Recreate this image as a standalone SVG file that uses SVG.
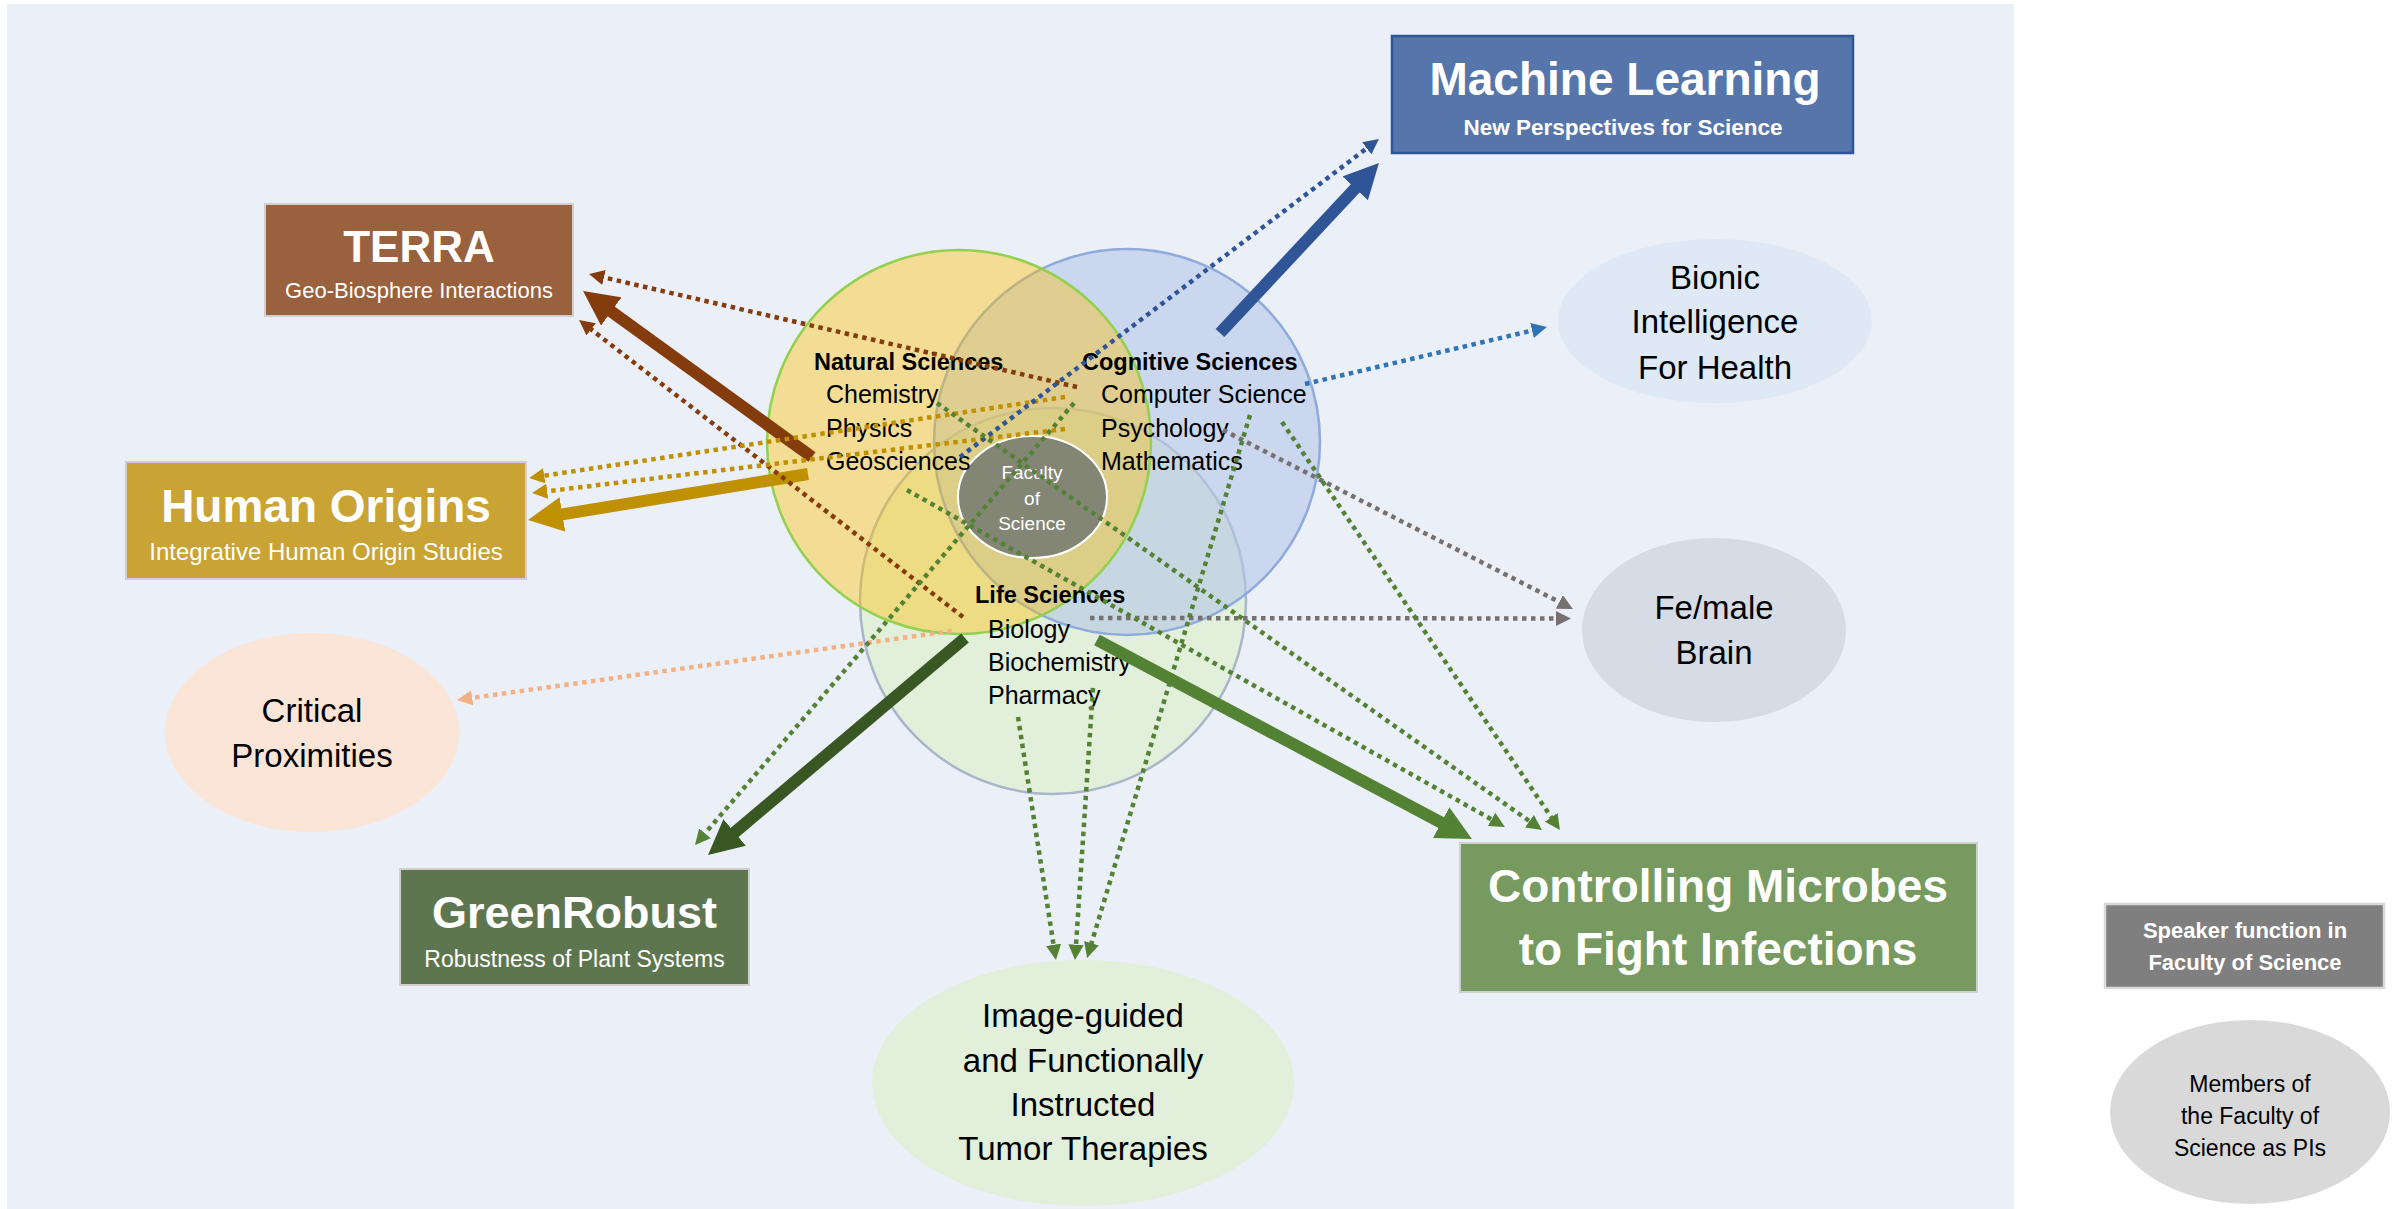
<svg xmlns="http://www.w3.org/2000/svg" width="2402" height="1209" viewBox="0 0 2402 1209">
<style>
text{font-family:"Liberation Sans",Arial,sans-serif}
.t{fill:#fff;font-weight:bold;text-anchor:middle}
.s{fill:#fff;text-anchor:middle}
.lbl{fill:#000;font-size:33px;text-anchor:middle}
.vh{font-weight:bold;font-size:23.5px;fill:#000}
.vi{font-size:25px;fill:#000}
.fac{fill:#fff;font-size:19px;text-anchor:middle}
.dot{fill:none;stroke-width:4.5;stroke-dasharray:4.5 4.5}
.thick{fill:none;stroke-width:12;stroke-linecap:butt}
.box{stroke:#D0CECE;stroke-width:2}
</style>
<defs>
<marker id="hBrown" viewBox="0 0 10 10" refX="1.4" refY="5" markerWidth="2.9" markerHeight="2.9" orient="auto" markerUnits="strokeWidth"><path d="M0,0L10,5L0,10z" fill="#843C0C"/></marker>
<marker id="hGold" viewBox="0 0 10 10" refX="1.4" refY="5" markerWidth="2.9" markerHeight="2.9" orient="auto" markerUnits="strokeWidth"><path d="M0,0L10,5L0,10z" fill="#BF9000"/></marker>
<marker id="hBlue" viewBox="0 0 10 10" refX="1.4" refY="5" markerWidth="2.9" markerHeight="2.9" orient="auto" markerUnits="strokeWidth"><path d="M0,0L10,5L0,10z" fill="#2F5597"/></marker>
<marker id="hDGreen" viewBox="0 0 10 10" refX="1.4" refY="5" markerWidth="2.9" markerHeight="2.9" orient="auto" markerUnits="strokeWidth"><path d="M0,0L10,5L0,10z" fill="#385723"/></marker>
<marker id="hGreen" viewBox="0 0 10 10" refX="1.4" refY="5" markerWidth="2.9" markerHeight="2.9" orient="auto" markerUnits="strokeWidth"><path d="M0,0L10,5L0,10z" fill="#548235"/></marker>
<marker id="dBrown" viewBox="0 0 10 10" refX="2.2" refY="5" markerWidth="3.4" markerHeight="3.4" orient="auto" markerUnits="strokeWidth"><path d="M0,0L10,5L0,10z" fill="#843C0C"/></marker>
<marker id="dGold" viewBox="0 0 10 10" refX="2.2" refY="5" markerWidth="3.4" markerHeight="3.4" orient="auto" markerUnits="strokeWidth"><path d="M0,0L10,5L0,10z" fill="#BF9000"/></marker>
<marker id="dBlue" viewBox="0 0 10 10" refX="2.2" refY="5" markerWidth="3.4" markerHeight="3.4" orient="auto" markerUnits="strokeWidth"><path d="M0,0L10,5L0,10z" fill="#2F5597"/></marker>
<marker id="dLBlue" viewBox="0 0 10 10" refX="2.2" refY="5" markerWidth="3.4" markerHeight="3.4" orient="auto" markerUnits="strokeWidth"><path d="M0,0L10,5L0,10z" fill="#2E75B6"/></marker>
<marker id="dGray" viewBox="0 0 10 10" refX="2.2" refY="5" markerWidth="3.4" markerHeight="3.4" orient="auto" markerUnits="strokeWidth"><path d="M0,0L10,5L0,10z" fill="#767171"/></marker>
<marker id="dOrange" viewBox="0 0 10 10" refX="2.2" refY="5" markerWidth="3.4" markerHeight="3.4" orient="auto" markerUnits="strokeWidth"><path d="M0,0L10,5L0,10z" fill="#F4B183"/></marker>
<marker id="dGreen" viewBox="0 0 10 10" refX="2.2" refY="5" markerWidth="3.4" markerHeight="3.4" orient="auto" markerUnits="strokeWidth"><path d="M0,0L10,5L0,10z" fill="#548235"/></marker>
</defs>

<rect id="panel" x="7" y="4" width="2007" height="1205" fill="#EBEFF7"/>

<g id="venn">
<circle id="life-circle" cx="1053" cy="601" r="193" fill="#E2EFDA" stroke="#A9B6CA" stroke-width="2.5"/>
<circle id="cognitive-circle" cx="1127" cy="442" r="193" fill="#B4C7E7" fill-opacity="0.6" stroke="#8FAADC" stroke-width="2.5"/>
<circle id="natural-circle" cx="959" cy="442" r="192" fill="#FFC000" fill-opacity="0.4" stroke="#92D050" stroke-width="2.5"/>
<g id="faculty">
<ellipse cx="1032.5" cy="497" rx="74.5" ry="61" fill="#838575" stroke="#FFFFFF" stroke-width="2"/>
<text class="fac" x="1032" y="479">Faculty</text>
<text class="fac" x="1032" y="505">of</text>
<text class="fac" x="1032" y="530">Science</text>
</g>
<g id="natural-sciences">
<text class="vh" x="814" y="370">Natural Sciences</text>
<text class="vi" x="826" y="403">Chemistry</text>
<text class="vi" x="826" y="437">Physics</text>
<text class="vi" x="826" y="470">Geosciences</text>
</g>
<g id="cognitive-sciences">
<text class="vh" x="1082" y="370">Cognitive Sciences</text>
<text class="vi" x="1101" y="403">Computer Science</text>
<text class="vi" x="1101" y="437">Psychology</text>
<text class="vi" x="1101" y="470">Mathematics</text>
</g>
<g id="life-sciences">
<text class="vh" x="975" y="603">Life Sciences</text>
<text class="vi" x="988" y="638">Biology</text>
<text class="vi" x="988" y="671">Biochemistry</text>
<text class="vi" x="988" y="704">Pharmacy</text>
</g>
</g>

<g id="machine-learning">
<rect x="1392" y="36" width="461" height="117" fill="#5676AB" stroke="#2F5597" stroke-width="2.5"/>
<text class="t" x="1625" y="95" font-size="46">Machine Learning</text>
<text class="t" x="1623" y="135" font-size="22.5">New Perspectives for Science</text>
</g>

<g id="terra">
<rect class="box" x="265" y="204" width="308" height="112" fill="#9A613E"/>
<text class="t" x="419" y="262" font-size="44">TERRA</text>
<text class="s" x="419" y="298" font-size="22">Geo-Biosphere Interactions</text>
</g>

<g id="human-origins">
<rect class="box" x="126" y="462" width="400" height="117" fill="#C9A334"/>
<text class="t" x="326" y="522" font-size="46">Human Origins</text>
<text class="s" x="326" y="560" font-size="24">Integrative Human Origin Studies</text>
</g>

<g id="greenrobust">
<rect class="box" x="400" y="869" width="349" height="116" fill="#5E7650"/>
<text class="t" x="574.5" y="928" font-size="45">GreenRobust</text>
<text class="s" x="574.5" y="967" font-size="23">Robustness of Plant Systems</text>
</g>

<g id="controlling-microbes">
<rect class="box" x="1460" y="843" width="517" height="149" fill="#769A5F"/>
<text class="t" x="1718" y="902" font-size="46">Controlling Microbes</text>
<text class="t" x="1718" y="965" font-size="46">to Fight Infections</text>
</g>

<g id="bionic-intelligence">
<ellipse cx="1715" cy="321" rx="157" ry="82" fill="#DEE9F5"/>
<text class="lbl" x="1715" y="289">Bionic</text>
<text class="lbl" x="1715" y="333">Intelligence</text>
<text class="lbl" x="1715" y="379">For Health</text>
</g>

<g id="female-brain">
<ellipse cx="1714" cy="630" rx="132" ry="92" fill="#D5DCE5"/>
<text class="lbl" x="1714" y="619">Fe/male</text>
<text class="lbl" x="1714" y="664">Brain</text>
</g>

<g id="critical-proximities">
<ellipse cx="312" cy="732.5" rx="147" ry="99.5" fill="#FBE5D6"/>
<text class="lbl" x="312" y="722">Critical</text>
<text class="lbl" x="312" y="767">Proximities</text>
</g>

<g id="tumor-therapies">
<ellipse cx="1083" cy="1083" rx="211" ry="123" fill="#E2EFDA"/>
<text class="lbl" x="1083" y="1027">Image-guided</text>
<text class="lbl" x="1083" y="1072">and Functionally</text>
<text class="lbl" x="1083" y="1116">Instructed</text>
<text class="lbl" x="1083" y="1160">Tumor Therapies</text>
</g>

<g id="legend-speaker">
<rect x="2105" y="904" width="279" height="84" fill="#7F7F7F" stroke="#D9D9D9" stroke-width="2.5"/>
<text class="t" x="2245" y="938" font-size="22">Speaker function in</text>
<text class="t" x="2245" y="970" font-size="22">Faculty of Science</text>
</g>

<g id="legend-members">
<ellipse cx="2250" cy="1112" rx="140" ry="92" fill="#D9D9D9"/>
<text x="2250" y="1092" font-size="23" text-anchor="middle" fill="#000">Members of</text>
<text x="2250" y="1124" font-size="23" text-anchor="middle" fill="#000">the Faculty of</text>
<text x="2250" y="1156" font-size="23" text-anchor="middle" fill="#000">Science as PIs</text>
</g>

<g id="connectors">
<path class="thick" stroke="#843C0C" marker-end="url(#hBrown)" d="M812,457L607.3,308.6"/>
<path class="thick" stroke="#BF9000" marker-end="url(#hGold)" d="M808,474L557.6,515.1"/>
<path class="thick" stroke="#2F5597" marker-end="url(#hBlue)" d="M1220,333L1358.5,184.9"/>
<path class="thick" stroke="#385723" marker-end="url(#hDGreen)" d="M965,638L730.9,835.6"/>
<path class="thick" stroke="#548235" marker-end="url(#hGreen)" d="M1097,640L1445.5,824.9"/>

<path class="dot" stroke="#843C0C" marker-end="url(#dBrown)" d="M1077,387L600.7,276.7"/>
<path class="dot" stroke="#843C0C" marker-end="url(#dBrown)" d="M963,617L588.5,327.3"/>
<path class="dot" stroke="#BF9000" marker-end="url(#dGold)" d="M1065,397L540.9,476.2"/>
<path class="dot" stroke="#BF9000" marker-end="url(#dGold)" d="M1065,429L543.9,491.6"/>
<path class="dot" stroke="#2F5597" marker-end="url(#dBlue)" d="M960,457L1369.4,146.3"/>
<path class="dot" stroke="#2E75B6" marker-end="url(#dLBlue)" d="M1305,384L1535.3,329.8"/>
<path class="dot" stroke="#767171" marker-end="url(#dGray)" d="M1223,430L1562.3,603.5"/>
<path class="dot" stroke="#767171" marker-end="url(#dGray)" d="M1090,618L1559,618.5"/>
<path class="dot" stroke="#F4B183" marker-end="url(#dOrange)" d="M952,631L468.9,698.3"/>
<path class="dot" stroke="#548235" marker-end="url(#dGreen)" d="M1074,403L702.8,835.9"/>
<path class="dot" stroke="#548235" marker-end="url(#dGreen)" d="M937,403L1532.2,823.1"/>
<path class="dot" stroke="#548235" marker-end="url(#dGreen)" d="M907,490L1494.5,821.1"/>
<path class="dot" stroke="#548235" marker-end="url(#dGreen)" d="M1282,422L1553.2,820.1"/>
<path class="dot" stroke="#548235" marker-end="url(#dGreen)" d="M1250,415L1090.5,946.5"/>
<path class="dot" stroke="#548235" marker-end="url(#dGreen)" d="M1018,717L1054.1,948.1"/>
<path class="dot" stroke="#548235" marker-end="url(#dGreen)" d="M1093,688L1075.8,948"/>
</g>
</svg>
